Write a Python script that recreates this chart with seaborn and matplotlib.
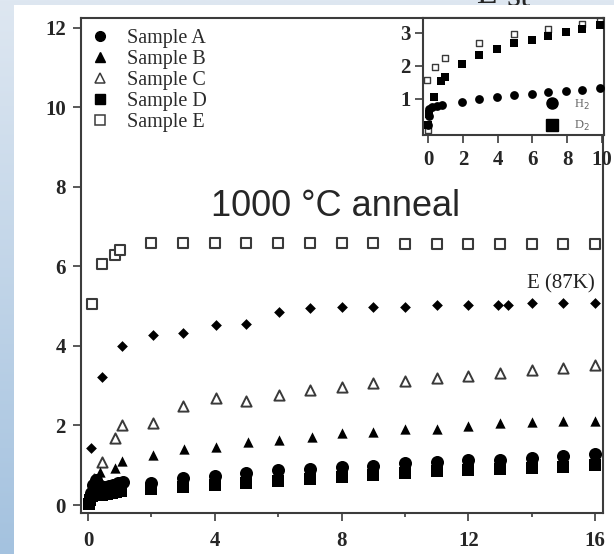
import numpy as np
import pandas as pd
import matplotlib
matplotlib.use("Agg")
import matplotlib.pyplot as plt
from matplotlib.lines import Line2D
from matplotlib.patches import Rectangle
import seaborn as sns

# ---- main panel data (time vs. uptake) ----
a_t = [0.03, 0.08, 0.15, 0.25, 0.35, 0.5, 0.65, 0.8, 0.95, 1.1,
       2, 3, 4, 5, 6, 7, 8, 9, 10, 11, 12, 13, 14, 15, 16]
a_v = [0.1, 0.3, 0.5, 0.62, 0.5, 0.45, 0.48, 0.5, 0.55, 0.58,
       0.56, 0.69, 0.74, 0.80, 0.87, 0.90, 0.95, 0.99, 1.05, 1.09, 1.12, 1.14, 1.18, 1.24, 1.29]

b_t = [0.05, 0.15, 0.25, 0.38, 0.85, 1.07, 2.05, 3.03, 4.04, 5.04, 6.03, 7.07,
       8, 9, 10, 11, 12, 13, 14, 15, 16]
b_v = [0.2, 0.45, 0.6, 0.83, 0.93, 1.1, 1.26, 1.4, 1.46, 1.58, 1.63, 1.71,
       1.81, 1.84, 1.91, 1.91, 1.98, 2.06, 2.09, 2.11, 2.11]

c_t = [0.05, 0.2, 0.44, 0.85, 1.07, 2.05, 3.0, 4.04, 5.0, 6.03,
       7, 8, 9, 10, 11, 12, 13, 14, 15, 16]
c_v = [0.3, 0.65, 1.08, 1.68, 2.0, 2.06, 2.5, 2.69, 2.61, 2.76,
       2.89, 2.96, 3.06, 3.11, 3.19, 3.24, 3.32, 3.39, 3.44, 3.52]

d_t = [0.02, 0.06, 0.12, 0.2, 0.3, 0.45, 0.6, 0.75, 0.9, 1.05,
       2, 3, 4, 5, 6, 7, 8, 9, 10, 11, 12, 13, 14, 15, 16]
d_v = [0.02, 0.12, 0.22, 0.3, 0.28, 0.25, 0.28, 0.3, 0.32, 0.35,
       0.40, 0.45, 0.50, 0.55, 0.60, 0.65, 0.70, 0.75, 0.80, 0.85, 0.88, 0.90, 0.93, 0.95, 1.0]

e_t = [0.13, 0.44, 0.85, 1.0, 2, 3, 4, 5, 6, 7, 8, 9, 10, 11, 12, 13, 14, 15, 16]
e_v = [5.05, 6.05, 6.28, 6.42, 6.58, 6.58, 6.58, 6.58, 6.58, 6.58, 6.58, 6.58,
       6.57, 6.57, 6.56, 6.55, 6.55, 6.55, 6.55]

e87_t = [0.1, 0.44, 1.07, 2.05, 3.0, 4.04, 5.0, 6.03, 7, 8, 9, 10, 11, 12,
         12.95, 13.25, 14, 15, 16]
e87_v = [1.43, 3.22, 4.0, 4.27, 4.32, 4.52, 4.55, 4.85, 4.95, 4.98, 4.98, 4.98,
         5.03, 5.03, 5.03, 5.03, 5.08, 5.08, 5.08]

# ---- inset data ----
in_open_t = [0.0, -0.06, 0.4, 0.98, 2.93, 4.94, 6.9, 8.85, 9.9]
in_open_v = [0.06, 1.58, 1.97, 2.24, 2.7, 2.96, 3.12, 3.27, 3.35]

d2_t = [0.0, 0.05, 0.34, 0.75, 0.98, 1.95, 2.93, 3.97, 4.94, 5.98, 6.9, 7.93, 8.85, 9.9]
d2_v = [0.2, 0.55, 1.06, 1.55, 1.67, 2.06, 2.33, 2.5, 2.7, 2.79, 2.91, 3.03, 3.12, 3.24]

h2_t = [0.02, 0.05, 0.08, 0.2, 0.5, 0.8, 1.95, 2.93, 3.97, 4.94, 5.98, 6.9, 7.93, 8.85, 9.9]
h2_v = [0.2, 0.5, 0.7, 0.75, 0.78, 0.82, 0.92, 0.99, 1.07, 1.12, 1.15, 1.2, 1.24, 1.27, 1.32]

main_xticks = [0, 4, 8, 12, 16]
main_yticks = [0, 2, 4, 6, 8, 10, 12]
inset_xticks = [0, 2, 4, 6, 8, 10]
inset_yticks = [1, 2, 3]

sns.set_style("ticks")
plt.rcParams["font.family"] = ["Liberation Serif", "DejaVu Serif"]

W, H = 614, 554
fig = plt.figure(figsize=(W / 100, H / 100), dpi=100)

# slide background: blue gradient with white page
bg = fig.add_axes([0, 0, 1, 1], zorder=-10)
top_c = np.array([0xde, 0xe7, 0xf1]) / 255
bot_c = np.array([0xa4, 0xc2, 0xdf]) / 255
grad = np.linspace(0, 1, 256)[:, None, None]
img = top_c * (1 - grad) + bot_c * grad
bg.imshow(np.repeat(img, 2, axis=1), aspect="auto", extent=[0, 1, 0, 1])
bg.axis("off")
fig.patches.append(Rectangle((14 / W, 0), 1 - 14 / W, 1 - 5 / H,
                             transform=fig.transFigure, facecolor="white",
                             edgecolor="none", zorder=-5))

# slide title peeking in at the top edge, behind the white page
fig.text(476 / W, 1 - 3 / H, "E", fontsize=24, va="baseline", ha="left", zorder=-6)
fig.text(506 / W, 1 - 6 / H, "st", fontsize=26, va="baseline", ha="left", zorder=-6)

spine_c = "#3c3c3c"
edge_c = "#3a3a3a"

ax = fig.add_axes([81 / W, 1 - 513 / H, (603 - 81) / W, (513 - 18) / H], zorder=1)
ax.set_facecolor("white")


def scatter(axis, x, y, marker, s, filled, lw=1.2):
    face = "black" if filled else "white"
    sns.scatterplot(x=x, y=y, ax=axis, marker=marker, s=s, color=face,
                    edgecolor="black" if filled else edge_c,
                    linewidth=0 if filled else lw, legend=False, zorder=3)


scatter(ax, e_t, e_v, "s", 52, False, lw=1.5)
scatter(ax, c_t, c_v, "^", 54, False, lw=1.4)
scatter(ax, e87_t, e87_v, "D", 30, True)
scatter(ax, b_t, b_v, "^", 55, True)
scatter(ax, d_t, d_v, "s", 78, True)
scatter(ax, a_t, a_v, "o", 88, True)

ax.set_xlim(-0.22, 16.25)
ax.set_ylim(-0.2, 12.24)
ax.set_xticks(main_xticks)
ax.set_xticks([2, 6, 10, 14], minor=True)
ax.set_yticks(main_yticks)
ax.set_xlabel("")
ax.set_ylabel("")
ax.tick_params(axis="both", which="major", direction="out", length=6, width=1.2,
               color=spine_c, labelsize=15)
ax.tick_params(axis="x", which="major", pad=7)
ax.tick_params(axis="y", which="major", pad=5)
ax.tick_params(axis="x", which="minor", direction="out", length=3, width=1.2, color=spine_c)
for lab in ax.get_xticklabels() + ax.get_yticklabels():
    lab.set_fontweight("bold")
for sp in ax.spines.values():
    sp.set_visible(True)
    sp.set_color(spine_c)
    sp.set_linewidth(1.5)

ax.text(16.0, 5.55, "E (87K)", ha="right", va="center", fontsize=15, color="#222222")
ax.text(7.8, 7.5, "1000 °C anneal", ha="center", va="center", fontsize=26,
        family=["Liberation Sans", "DejaVu Sans"])

handles = [
    Line2D([], [], ls="", marker="o", ms=7, mfc="black", mec="black"),
    Line2D([], [], ls="", marker="^", ms=7, mfc="black", mec="black"),
    Line2D([], [], ls="", marker="^", ms=6.5, mfc="white", mec=edge_c, mew=1.1),
    Line2D([], [], ls="", marker="s", ms=7, mfc="black", mec="black"),
    Line2D([], [], ls="", marker="s", ms=6.5, mfc="white", mec=edge_c, mew=1.1),
]
labels = ["Sample A", "Sample B", "Sample C", "Sample D", "Sample E"]
leg = ax.legend(handles, labels, loc="upper left", bbox_to_anchor=(0.022, 0.978),
                frameon=False, fontsize=14.5, handlelength=0.7, handletextpad=1.0,
                labelspacing=0.09, borderpad=0, borderaxespad=0)
for t in leg.get_texts():
    t.set_color("#2a2a2a")

# ---- inset: H2 vs D2 ----
axi = fig.add_axes([423 / W, 1 - 135 / H, (604 - 423) / W, (135 - 18) / H], zorder=2)
axi.set_facecolor("white")
scatter(axi, in_open_t, in_open_v, "s", 22, False, lw=1.0)
scatter(axi, d2_t, d2_v, "s", 40, True)
scatter(axi, h2_t, h2_v, "o", 40, True)
axi.set_xlim(-0.29, 10.11)
axi.set_ylim(-0.09, 3.45)
axi.set_xticks(inset_xticks)
axi.set_yticks(inset_yticks)
axi.set_xlabel("")
axi.set_ylabel("")
axi.tick_params(axis="both", direction="out", length=6, width=1.2, color=spine_c,
                labelsize=15)
axi.tick_params(axis="x", pad=5)
axi.tick_params(axis="y", pad=3)
for lab in axi.get_xticklabels() + axi.get_yticklabels():
    lab.set_fontweight("bold")
for sp in axi.spines.values():
    sp.set_visible(True)
    sp.set_color(spine_c)
    sp.set_linewidth(1.5)

ih = [Line2D([], [], ls="", marker="o", ms=8, mfc="black", mec="black"),
      Line2D([], [], ls="", marker="s", ms=8, mfc="black", mec="black")]
ileg = axi.legend(ih, ["H$_2$", "D$_2$"], loc="upper left", bbox_to_anchor=(0.68, 0.32),
                  frameon=False, fontsize=9, handlelength=1.0, handletextpad=1.2,
                  labelspacing=0.6, borderpad=0, borderaxespad=0)
for t in ileg.get_texts():
    t.set_color("#666666")

fig.savefig("out.png", dpi=100)
